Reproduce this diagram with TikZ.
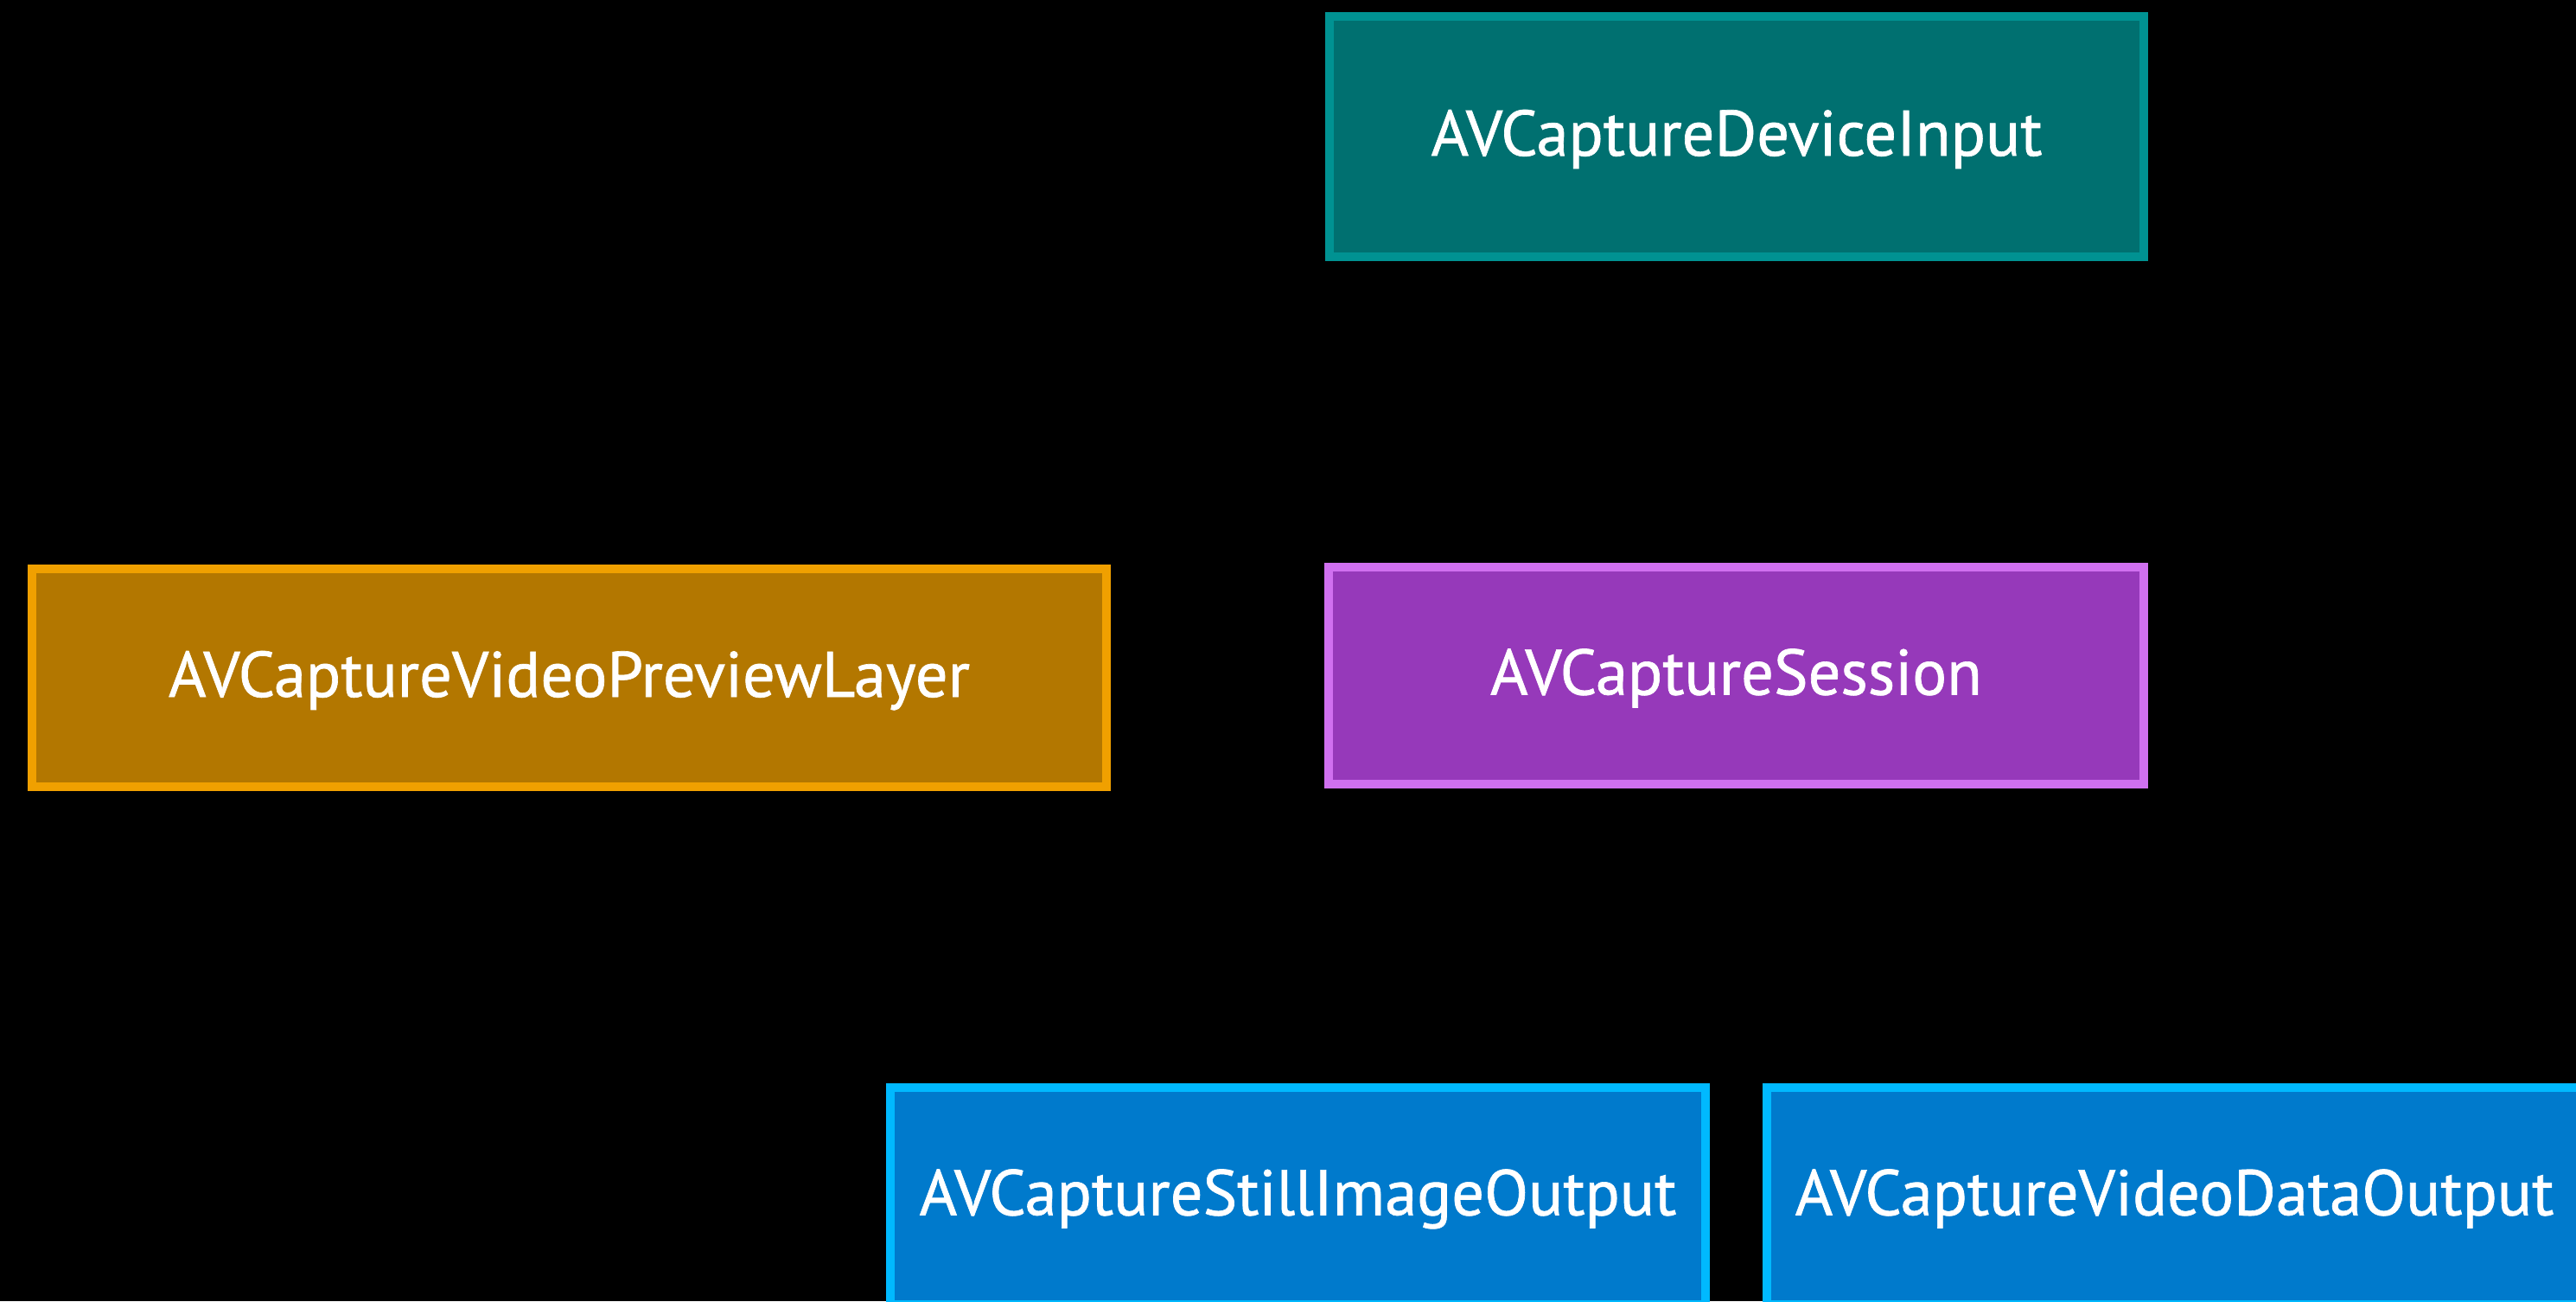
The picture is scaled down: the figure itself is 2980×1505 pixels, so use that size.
\documentclass[tikz,border=0pt]{standalone}
\usepackage{fontspec}
\setmainfont{PT Sans}
\newfontfamily\boxfont[FakeBold=0.9]{PT Sans}
\definecolor{tealfill}{RGB}{0,112,112}
\definecolor{tealline}{RGB}{0,146,146}
\definecolor{orangefill}{RGB}{179,119,0}
\definecolor{orangeline}{RGB}{240,160,0}
\definecolor{purplefill}{RGB}{150,57,186}
\definecolor{purpleline}{RGB}{208,112,240}
\definecolor{bluefill}{RGB}{0,122,204}
\definecolor{blueline}{RGB}{0,185,255}
\tikzset{
  classbox/.style={draw, line width=0.1cm, rectangle, inner sep=0pt,
    text=white, font=\boxfont\fontsize{21.2pt}{25pt}\selectfont,
    text height=0.48cm, text depth=0.04cm, minimum height=2.51cm},
}
\begin{document}
\begin{tikzpicture}[x=0.01cm,y=-0.01cm]
\fill[black] (0,0) rectangle (2980,1505);
\useasboundingbox (0,0) rectangle (2980,1505);
\node[classbox, fill=tealfill, draw=tealline, minimum width=9.42cm, minimum height=2.78cm] (input) at (2009,158) {AVCaptureDeviceInput};
\node[classbox, fill=orangefill, draw=orangeline, minimum width=12.43cm, minimum height=2.52cm] (preview) at (658.5,784) {AVCaptureVideoPreviewLayer};
\node[classbox, fill=purplefill, draw=purpleline, minimum width=9.43cm] (session) at (2008.5,781.5) {AVCaptureSession};
\node[classbox, fill=bluefill, draw=blueline, minimum width=9.43cm] (still) at (1501.5,1383.5) {AVCaptureStillImageOutput};
\node[classbox, fill=bluefill, draw=blueline, minimum width=9.43cm] (videodata) at (2515.5,1383.5) {AVCaptureVideoDataOutput};
\end{tikzpicture}
\end{document}
